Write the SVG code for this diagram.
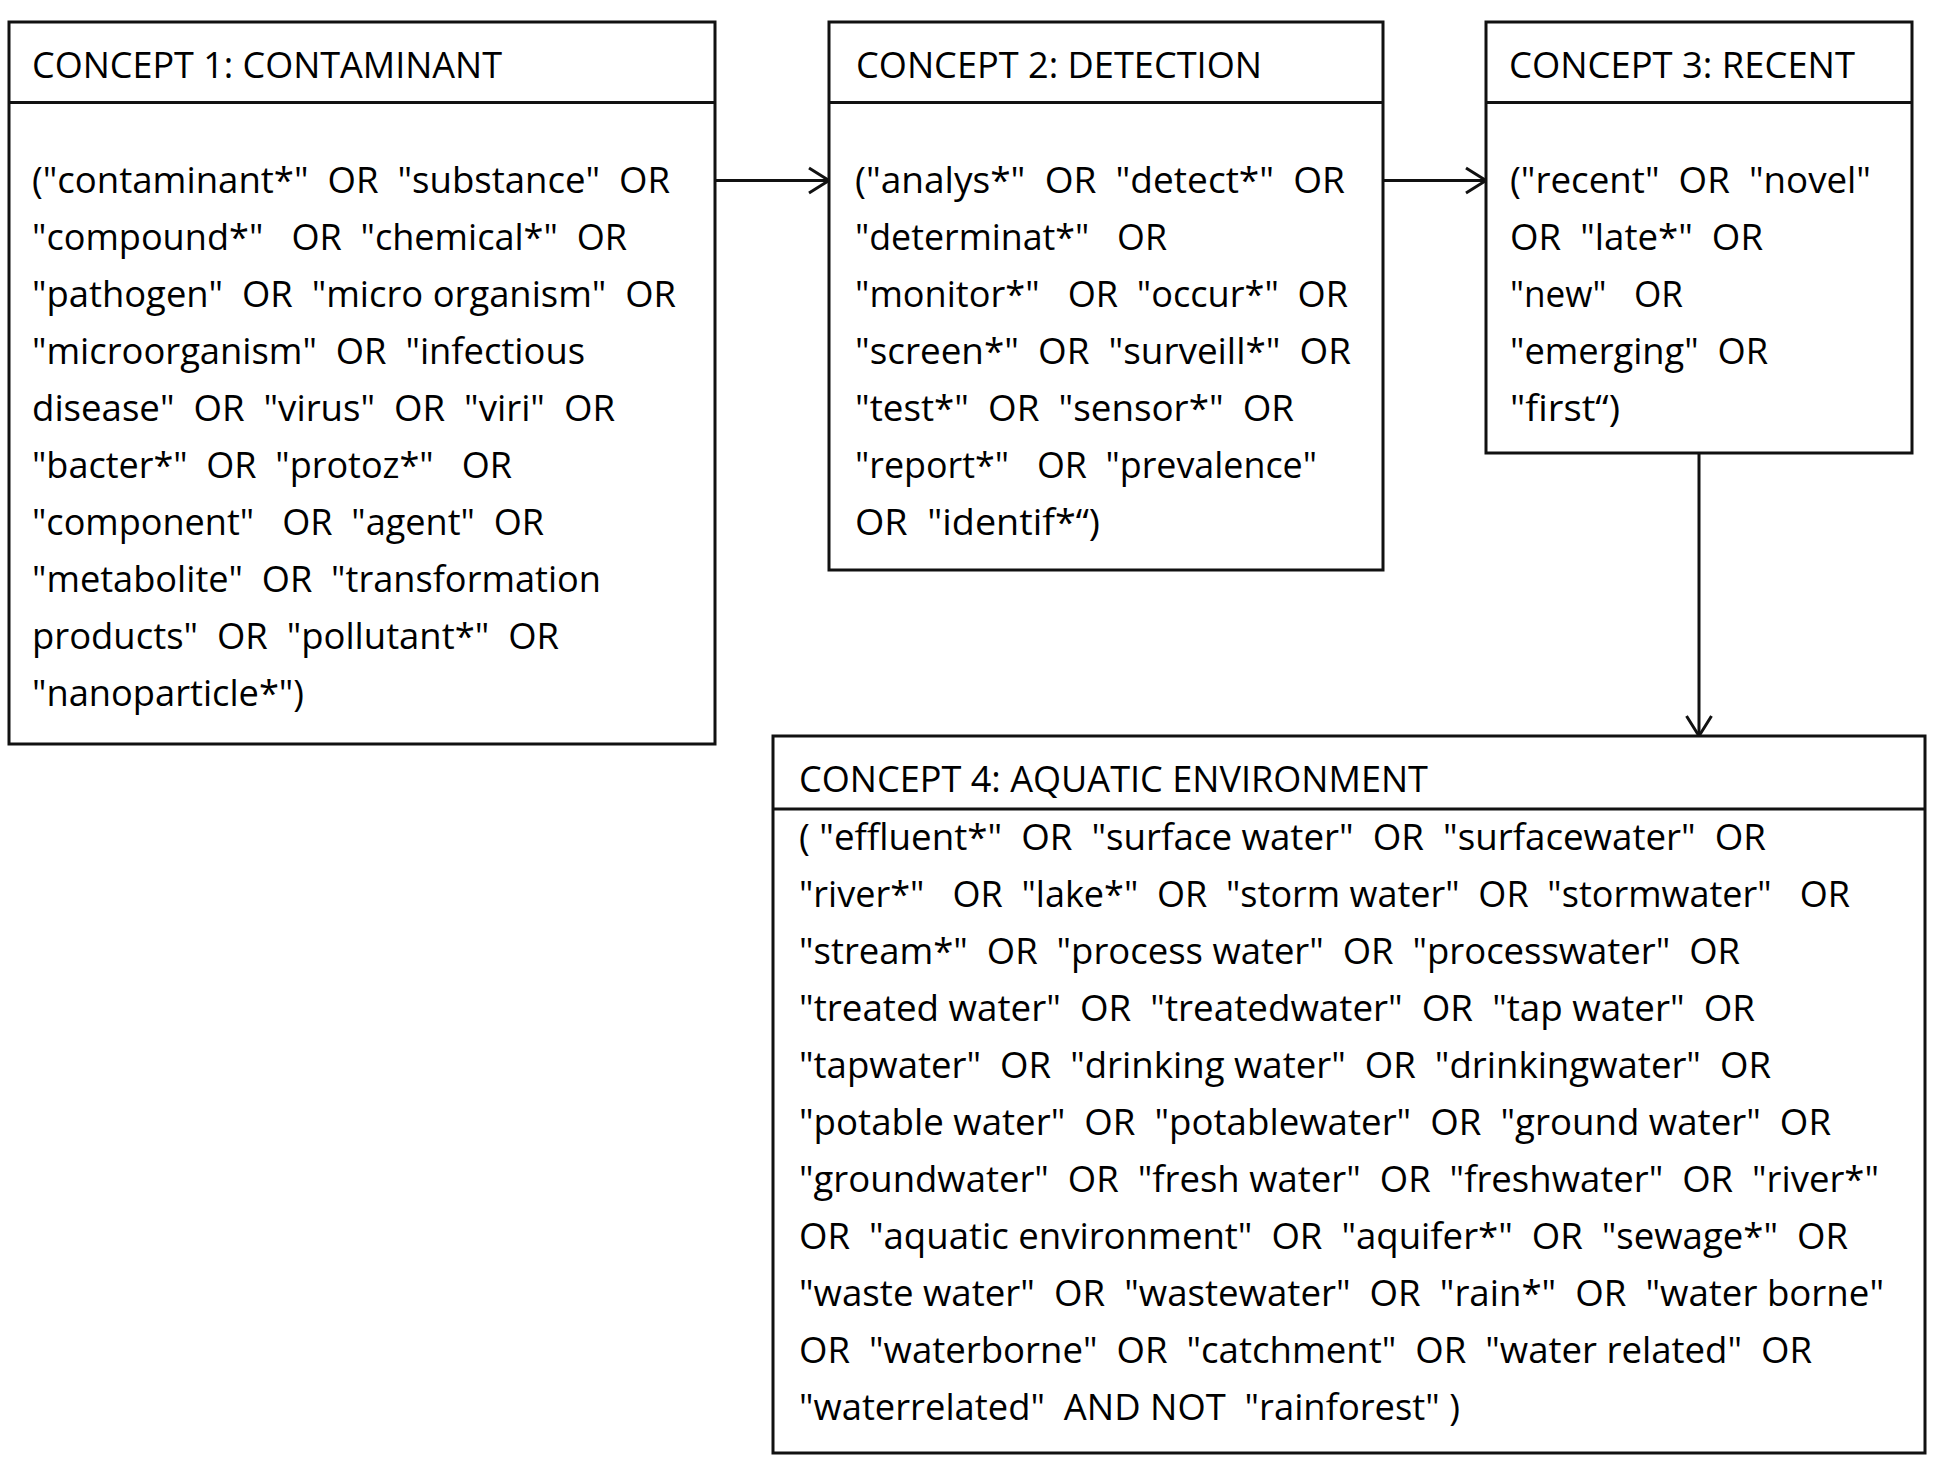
<svg xmlns="http://www.w3.org/2000/svg" width="1937" height="1460" viewBox="0 0 1937 1460">
<style>
.box{fill:#fff;stroke:#111;stroke-width:3}
.div{stroke:#111;stroke-width:3}
.t{font-family:"Open Sans","Noto Sans",sans-serif;font-size:37px;fill:#000}
.c{stroke:#111;stroke-width:3;fill:none}
</style>
<defs>
<marker id="arr" markerWidth="30" markerHeight="30" refX="22" refY="15" orient="auto" markerUnits="userSpaceOnUse" viewBox="0 0 30 30">
<path d="M2,2.5 L22,15 L2,27.5" fill="none" stroke="#111" stroke-width="3" stroke-linejoin="round"/>
</marker>
</defs>
<rect width="1937" height="1460" fill="#fff"/>
<g id="connectors">
<line class="c" x1="715" y1="180.5" x2="829" y2="180.5" marker-end="url(#arr)"/>
<line class="c" x1="1383" y1="180.5" x2="1486" y2="180.5" marker-end="url(#arr)"/>
<line class="c" x1="1699" y1="453" x2="1699" y2="736" marker-end="url(#arr)"/>
</g>
<g id="concept1">
<rect class="box" x="9" y="22" width="706" height="722"/>
<line class="div" x1="9" y1="102.5" x2="715" y2="102.5"/>
<text class="t" x="32" y="78" textLength="470" lengthAdjust="spacingAndGlyphs">CONCEPT 1: CONTAMINANT</text>
<text class="t" xml:space="preserve" x="32" y="193" textLength="638" lengthAdjust="spacingAndGlyphs">("contaminant*"  OR  "substance"  OR</text>
<text class="t" xml:space="preserve" x="32" y="250" textLength="595" lengthAdjust="spacingAndGlyphs">"compound*"   OR  "chemical*"  OR</text>
<text class="t" xml:space="preserve" x="32" y="307" textLength="644" lengthAdjust="spacingAndGlyphs">"pathogen"  OR  "micro organism"  OR</text>
<text class="t" xml:space="preserve" x="32" y="364" textLength="553" lengthAdjust="spacingAndGlyphs">"microorganism"  OR  "infectious</text>
<text class="t" xml:space="preserve" x="32" y="421" textLength="583" lengthAdjust="spacingAndGlyphs">disease"  OR  "virus"  OR  "viri"  OR</text>
<text class="t" xml:space="preserve" x="32" y="478" textLength="480" lengthAdjust="spacingAndGlyphs">"bacter*"  OR  "protoz*"   OR</text>
<text class="t" xml:space="preserve" x="32" y="535" textLength="512" lengthAdjust="spacingAndGlyphs">"component"   OR  "agent"  OR</text>
<text class="t" xml:space="preserve" x="32" y="592" textLength="569" lengthAdjust="spacingAndGlyphs">"metabolite"  OR  "transformation</text>
<text class="t" xml:space="preserve" x="32" y="649" textLength="527" lengthAdjust="spacingAndGlyphs">products"  OR  "pollutant*"  OR</text>
<text class="t" xml:space="preserve" x="32" y="706" textLength="272" lengthAdjust="spacingAndGlyphs">"nanoparticle*")</text>
</g>
<g id="concept2">
<rect class="box" x="829" y="22" width="554" height="548"/>
<line class="div" x1="829" y1="102.5" x2="1383" y2="102.5"/>
<text class="t" x="856" y="78" textLength="406" lengthAdjust="spacingAndGlyphs">CONCEPT 2: DETECTION</text>
<text class="t" xml:space="preserve" x="855" y="193" textLength="490" lengthAdjust="spacingAndGlyphs">("analys*"  OR  "detect*"  OR</text>
<text class="t" xml:space="preserve" x="855" y="250" textLength="312" lengthAdjust="spacingAndGlyphs">"determinat*"   OR</text>
<text class="t" xml:space="preserve" x="855" y="307" textLength="493" lengthAdjust="spacingAndGlyphs">"monitor*"   OR  "occur*"  OR</text>
<text class="t" xml:space="preserve" x="855" y="364" textLength="496" lengthAdjust="spacingAndGlyphs">"screen*"  OR  "surveill*"  OR</text>
<text class="t" xml:space="preserve" x="855" y="421" textLength="439" lengthAdjust="spacingAndGlyphs">"test*"  OR  "sensor*"  OR</text>
<text class="t" xml:space="preserve" x="855" y="478" textLength="462" lengthAdjust="spacingAndGlyphs">"report*"   OR  "prevalence"</text>
<text class="t" xml:space="preserve" x="855" y="535" textLength="245" lengthAdjust="spacingAndGlyphs">OR  "identif*“)</text>
</g>
<g id="concept3">
<rect class="box" x="1486" y="22" width="426" height="431"/>
<line class="div" x1="1486" y1="102.5" x2="1912" y2="102.5"/>
<text class="t" x="1509" y="78" textLength="346" lengthAdjust="spacingAndGlyphs">CONCEPT 3: RECENT</text>
<text class="t" xml:space="preserve" x="1510" y="193" textLength="361" lengthAdjust="spacingAndGlyphs">("recent"  OR  "novel"</text>
<text class="t" xml:space="preserve" x="1510" y="250" textLength="253" lengthAdjust="spacingAndGlyphs">OR  "late*"  OR</text>
<text class="t" xml:space="preserve" x="1510" y="307" textLength="173" lengthAdjust="spacingAndGlyphs">"new"   OR</text>
<text class="t" xml:space="preserve" x="1510" y="364" textLength="258" lengthAdjust="spacingAndGlyphs">"emerging"  OR</text>
<text class="t" xml:space="preserve" x="1510" y="421" textLength="110" lengthAdjust="spacingAndGlyphs">"first“)</text>
</g>
<g id="concept4">
<rect class="box" x="773" y="736" width="1152" height="717"/>
<line class="div" x1="773" y1="809" x2="1925" y2="809"/>
<text class="t" x="799" y="792" textLength="629" lengthAdjust="spacingAndGlyphs">CONCEPT 4: AQUATIC ENVIRONMENT</text>
<text class="t" xml:space="preserve" x="799" y="850" textLength="967" lengthAdjust="spacingAndGlyphs">( "effluent*"  OR  "surface water"  OR  "surfacewater"  OR</text>
<text class="t" xml:space="preserve" x="799" y="907" textLength="1051" lengthAdjust="spacingAndGlyphs">"river*"   OR  "lake*"  OR  "storm water"  OR  "stormwater"   OR</text>
<text class="t" xml:space="preserve" x="799" y="964" textLength="941" lengthAdjust="spacingAndGlyphs">"stream*"  OR  "process water"  OR  "processwater"  OR</text>
<text class="t" xml:space="preserve" x="799" y="1021" textLength="956" lengthAdjust="spacingAndGlyphs">"treated water"  OR  "treatedwater"  OR  "tap water"  OR</text>
<text class="t" xml:space="preserve" x="799" y="1078" textLength="972" lengthAdjust="spacingAndGlyphs">"tapwater"  OR  "drinking water"  OR  "drinkingwater"  OR</text>
<text class="t" xml:space="preserve" x="799" y="1135" textLength="1032" lengthAdjust="spacingAndGlyphs">"potable water"  OR  "potablewater"  OR  "ground water"  OR</text>
<text class="t" xml:space="preserve" x="799" y="1192" textLength="1080" lengthAdjust="spacingAndGlyphs">"groundwater"  OR  "fresh water"  OR  "freshwater"  OR  "river*"</text>
<text class="t" xml:space="preserve" x="799" y="1249" textLength="1049" lengthAdjust="spacingAndGlyphs">OR  "aquatic environment"  OR  "aquifer*"  OR  "sewage*"  OR</text>
<text class="t" xml:space="preserve" x="799" y="1306" textLength="1085" lengthAdjust="spacingAndGlyphs">"waste water"  OR  "wastewater"  OR  "rain*"  OR  "water borne"</text>
<text class="t" xml:space="preserve" x="799" y="1363" textLength="1013" lengthAdjust="spacingAndGlyphs">OR  "waterborne"  OR  "catchment"  OR  "water related"  OR</text>
<text class="t" xml:space="preserve" x="799" y="1420" textLength="661" lengthAdjust="spacingAndGlyphs">"waterrelated"  AND NOT  "rainforest" )</text>
</g>
</svg>
